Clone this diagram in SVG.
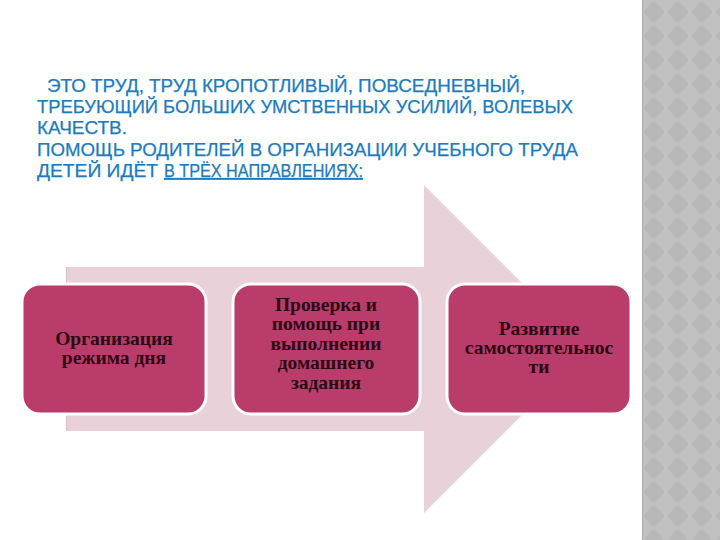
<svg xmlns="http://www.w3.org/2000/svg" width="720" height="540" viewBox="0 0 720 540">
  <defs>
    <pattern id="diamonds" x="642" y="0" width="24" height="24" patternUnits="userSpaceOnUse">
      <rect width="24" height="24" fill="#c1c1c1"/>
      <rect x="4" y="4" width="16" height="16" rx="4" fill="#b8b8b8" transform="rotate(45 12 12)"/>
    </pattern>
    <style>
      .head { font-family: "Liberation Sans", Arial, sans-serif; font-size: 18px; fill: #1a7bc0; stroke: #1a7bc0; stroke-width: 0.25; }
      .box { fill: #b93c6a; stroke: #ffffff; stroke-width: 3; }
      .lbl { font-family: "Liberation Serif", "Times New Roman", serif; font-weight: bold; font-size: 19.5px; fill: #2a0a14; text-anchor: middle; }
    </style>
  </defs>
  <rect width="720" height="540" fill="#ffffff"/>
  <rect x="642" y="0" width="78" height="540" fill="url(#diamonds)"/>
  <line x1="642.5" y1="0" x2="642.5" y2="540" stroke="#aaaaaa" stroke-width="1"/>

  <g id="heading">
    <text class="head" x="47" y="92" textLength="478" lengthAdjust="spacingAndGlyphs">ЭТО ТРУД, ТРУД КРОПОТЛИВЫЙ, ПОВСЕДНЕВНЫЙ,</text>
    <text class="head" x="37" y="113" textLength="536" lengthAdjust="spacingAndGlyphs">ТРЕБУЮЩИЙ БОЛЬШИХ УМСТВЕННЫХ УСИЛИЙ, ВОЛЕВЫХ</text>
    <text class="head" x="37" y="134" textLength="90" lengthAdjust="spacingAndGlyphs">КАЧЕСТВ.</text>
    <text class="head" x="37" y="156" textLength="541" lengthAdjust="spacingAndGlyphs">ПОМОЩЬ РОДИТЕЛЕЙ В ОРГАНИЗАЦИИ УЧЕБНОГО ТРУДА</text>
    <text class="head" x="37" y="177" textLength="121" lengthAdjust="spacingAndGlyphs">ДЕТЕЙ ИДЁТ</text>
    <text class="head" x="164" y="177" textLength="199" lengthAdjust="spacingAndGlyphs" text-decoration="underline">В ТРЁХ НАПРАВЛЕНИЯХ:</text>
  </g>

  <g id="connectors">
    <polygon points="66,267 424,267 424,185 588,349 424,513 424,431 66,431" fill="#e8d1d9"/>
    <line x1="66.5" y1="267" x2="66.5" y2="431" stroke="#d6c0c8" stroke-width="1"/>
  </g>

  <g id="node-1">
    <rect class="box" x="22" y="284" width="184" height="130" rx="18"/>
    <text class="lbl" x="114" y="345">Организация</text>
    <text class="lbl" x="114" y="364">режима дня</text>
  </g>

  <g id="node-2">
    <rect class="box" x="233" y="284" width="187" height="130" rx="18"/>
    <text class="lbl" x="326" y="311">Проверка и</text>
    <text class="lbl" x="326" y="330">помощь при</text>
    <text class="lbl" x="326" y="350">выполнении</text>
    <text class="lbl" x="326" y="369">домашнего</text>
    <text class="lbl" x="326" y="389">задания</text>
  </g>

  <g id="node-3">
    <rect class="box" x="447" y="284" width="184" height="130" rx="18"/>
    <text class="lbl" x="539" y="335">Развитие</text>
    <text class="lbl" x="539" y="354">самостоятельнос</text>
    <text class="lbl" x="539" y="373">ти</text>
  </g>
</svg>
